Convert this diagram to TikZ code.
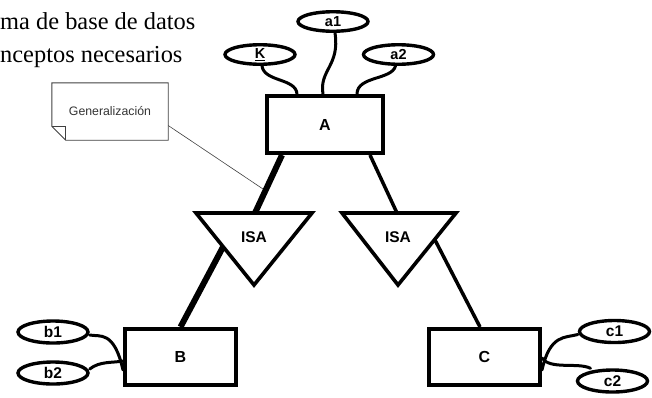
\documentclass[tikz,border=0pt]{standalone}
\usepackage{fontspec}
\setmainfont{Liberation Serif}
\newfontfamily\arialf{Liberation Sans}
\usetikzlibrary{shapes.geometric}
\tikzset{
  ent/.style={draw, rectangle, line width=4pt, minimum width=111pt, minimum height=56pt, inner sep=0pt, font=\arialf\bfseries\fontsize{16}{18}\selectfont},
  attr/.style={draw, ellipse, line width=3.4pt, minimum width=70pt, minimum height=19.5pt, inner sep=0pt, font=\arialf\bfseries\fontsize{14.5}{16}\selectfont},
  attrlow/.style={attr, minimum height=22pt, font=\arialf\bfseries\fontsize{15.5}{17}\selectfont},
  conn/.style={line width=3pt, line cap=round},
  tri/.style={line width=3.6pt, line join=miter},
  heavy/.style={line width=6pt},
  medium/.style={line width=3.5pt},
  isalbl/.style={inner sep=0pt, font=\arialf\bfseries\fontsize{15.5}{18}\selectfont},
  notebox/.style={inner sep=0pt, minimum width=116pt, minimum height=57pt, font=\arialf\fontsize{12.3}{15}\selectfont, text=black!80},
  noteline/.style={line width=0.9pt, draw=black!75},
  titletxt/.style={anchor=base west, inner sep=0pt, font=\fontsize{24.4}{30}\selectfont}
}
\begin{document}
\begin{tikzpicture}[x=1pt, y=-1pt]
\useasboundingbox (0,0) rectangle (652,397);
% title fragments
\node[titletxt] (t1) at (0,29) {ma de base de datos};
\node[titletxt] (t2) at (0,62) {nceptos necesarios};
% entities
\node[ent, minimum width=116pt, minimum height=57pt] (A) at (325,124.5) {A};
\node[ent] (B) at (180.5,357) {B};
\node[ent] (C) at (484.5,357) {C};
% attributes
\node[attr] (K) at (260,54.5) {\underline{K}};
\node[attr] (a1) at (333,21.5) {a1};
\node[attr] (a2) at (398.5,54.5) {a2};
\node[attrlow] (b1) at (53,332) {b1};
\node[attrlow] (b2) at (53,373) {b2};
\node[attrlow] (c1) at (614.5,331.5) {c1};
\node[attrlow] (c2) at (612.5,381) {c2};
% ISA triangles
\node[isalbl] (isaL) at (254,237) {ISA};
\node[isalbl] (isaR) at (398,237) {ISA};
\coordinate (tLa) at (196,213);
\coordinate (tLb) at (312,213);
\coordinate (tLc) at (254,285);
\coordinate (tRa) at (342,213);
\coordinate (tRb) at (456,213);
\coordinate (tRc) at (398,285);
\draw[tri] (tLa) -- (tLb) -- (tLc) -- cycle;
\draw[tri] (tRa) -- (tRb) -- (tRc) -- cycle;
\coordinate (tLtop) at (255,213);
\coordinate (tLside) at (223,247);
\coordinate (tRtop) at (397,213);
\coordinate (tRside) at (435,240);
% generalization lines
\draw[heavy] ([xshift=-43pt]A.south) -- (tLtop);
\draw[heavy] (tLside) -- (B.north);
\draw[medium] ([xshift=45pt]A.south) -- (tRtop);
\draw[medium] (tRside) -- ([xshift=-4.5pt]C.north);
% attribute connectors
\draw[conn] ([xshift=2pt]K.south) .. controls (264,82) and (296,78) .. ([xshift=-28pt]A.north);
\draw[conn] ([xshift=2pt]a1.south) .. controls (340,66) and (319,70) .. ([xshift=-2pt]A.north);
\draw[conn] ([xshift=-3pt]a2.south) .. controls (392,80) and (357,76) .. ([xshift=32pt]A.north);
\draw[conn] ([yshift=-3pt]b1.east) .. controls (100,337) and (114,330) .. ([yshift=-13pt]B.west);
\draw[conn] ([yshift=4pt]b2.east) .. controls (100,361) and (112,363) .. ([yshift=-4pt]B.west);
\draw[conn] ([yshift=-13pt]C.east) .. controls (550,334) and (565,338) .. ([yshift=-3pt]c1.west);
\draw[conn] ([yshift=-1pt]C.east) .. controls (550,370) and (578,362) .. ([xshift=-22pt]c2.north);
% note
\node[notebox] (note) at (110,111.5) {Generalización};
\coordinate (gEnd) at (263,189);
\draw[noteline] (note.north west) -- (note.north east) -- (note.south east)
  -- ([xshift=14pt]note.south west) -- ([yshift=14pt]note.south west) -- cycle;
\draw[noteline] ([yshift=14pt]note.south west) -- ([xshift=14pt,yshift=14pt]note.south west) -- ([xshift=14pt]note.south west);
\draw[noteline, line width=0.6pt] ([yshift=-14pt]note.east) -- (gEnd);
\end{tikzpicture}
\end{document}
